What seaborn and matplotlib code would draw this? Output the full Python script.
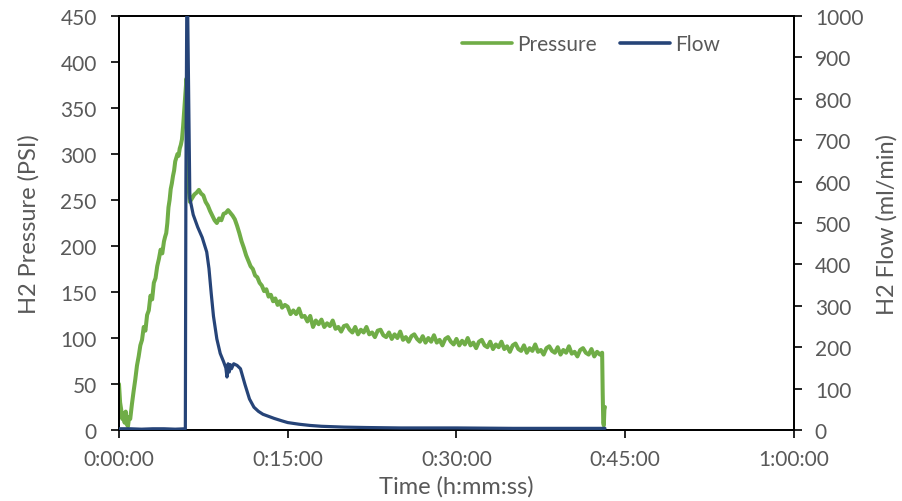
import matplotlib
matplotlib.use("Agg")
import matplotlib.pyplot as plt
import seaborn as sns
import pandas as pd
from matplotlib.lines import Line2D

# ---- data (time in minutes) ----
p_time = [0.0, 0.1, 0.2, 0.3, 0.4, 0.5, 0.6, 0.7, 0.8, 0.9, 1.0, 1.15, 1.3, 1.45, 1.6, 1.75, 1.9, 2.05, 2.2, 2.35,
          2.5, 2.65, 2.8, 2.95, 3.1, 3.25, 3.4, 3.55, 3.7, 3.85, 4.0, 4.1, 4.2, 4.3, 4.4, 4.5, 4.6, 4.7, 4.8, 4.9,
          5.0, 5.1, 5.2, 5.3, 5.4, 5.5, 5.6, 5.7, 5.8, 5.9, 6.0, 6.1, 6.2, 6.3,
          6.5, 6.7, 6.9, 7.1, 7.3, 7.5, 7.7, 7.9, 8.1, 8.3, 8.5, 8.7, 8.9, 9.1, 9.3, 9.5, 9.7, 9.9,
          10.1, 10.3, 10.5, 10.7, 10.9, 11.1, 11.3, 11.5, 11.7, 11.9, 12.1, 12.3, 12.5, 12.7, 12.9,
          13.1, 13.3, 13.5, 13.7, 13.9, 14.1, 14.3, 14.5, 14.75,
          15.0, 15.25, 15.5, 15.75, 16.0, 16.25, 16.5, 16.75, 17.0, 17.25, 17.5, 17.75, 18.0, 18.25, 18.5, 18.75,
          19.0, 19.25, 19.5, 19.75, 20.0, 20.25, 20.5, 20.75, 21.0, 21.25, 21.5, 21.75, 22.0, 22.25, 22.5, 22.75,
          23.0, 23.25, 23.5, 23.75, 24.0, 24.25, 24.5, 24.75, 25.0, 25.25, 25.5, 25.75, 26.0, 26.25, 26.5, 26.75,
          27.0, 27.25, 27.5, 27.75, 28.0, 28.25, 28.5, 28.75, 29.0, 29.25, 29.5, 29.75, 30.0, 30.25, 30.5, 30.75,
          31.0, 31.25, 31.5, 31.75, 32.0, 32.25, 32.5, 32.75, 33.0, 33.25, 33.5, 33.75, 34.0, 34.25, 34.5, 34.75,
          35.0, 35.25, 35.5, 35.75, 36.0, 36.25, 36.5, 36.75, 37.0, 37.25, 37.5, 37.75, 38.0, 38.25, 38.5, 38.75,
          39.0, 39.25, 39.5, 39.75, 40.0, 40.25, 40.5, 40.75, 41.0, 41.25, 41.5, 41.75, 42.0, 42.25, 42.5, 42.75,
          42.95, 43.0, 43.05, 43.1, 43.15, 43.2]
pressure = [50, 30, 22, 12, 18, 8, 20, 6, 4, 14, 12, 28, 42, 55, 70, 80, 92, 98, 112, 108,
            125, 130, 146, 142, 160, 165, 178, 186, 196, 192, 205, 210, 214, 225, 242, 250, 262, 268, 276, 282,
            292, 296, 300, 298, 306, 310, 316, 330, 348, 365, 382, 330, 262, 248,
            252, 256, 258, 261, 257, 255, 248, 244, 238, 233, 228, 225, 230, 228, 235, 236, 239, 236,
            233, 229, 222, 214, 205, 198, 190, 184, 178, 175, 168, 166, 160, 157, 151,
            153, 145, 147, 140, 143, 136, 140, 133, 136,
            134, 126, 130, 126, 132, 123, 124, 118, 124, 112, 119, 115, 120, 112, 116, 113,
            119, 110, 112, 107, 113, 114, 109, 106, 112, 104, 109, 106, 112, 104, 106, 101,
            108, 109, 103, 101, 106, 99, 104, 100, 107, 98, 101, 96, 102, 104, 99, 96,
            102, 95, 100, 96, 103, 95, 98, 92, 99, 101, 96, 93, 99, 92, 97, 93,
            100, 92, 95, 89, 96, 98, 92, 90, 96, 88, 93, 90, 96, 88, 91, 85,
            92, 94, 88, 86, 92, 84, 89, 86, 93, 85, 87, 82, 89, 91, 86, 84,
            90, 82, 87, 84, 91, 83, 85, 80, 87, 89, 84, 82, 88, 80, 85, 82,
            84, 40, 8, 5, 22, 25]

f_time = [0.0, 1.0, 2.0, 3.0, 4.0, 5.0, 5.9, 5.95, 6.05, 6.3, 6.6, 7.0, 7.4, 7.8, 8.0, 8.2, 8.4, 8.7,
          9.0, 9.3, 9.5, 9.6, 9.7, 9.8, 9.9, 10.0, 10.2, 10.5, 10.8, 11.2, 11.6, 12.0, 12.4, 12.8,
          13.3, 13.8, 14.5, 15.0, 16.0, 17.0, 18.0, 19.0, 20.0, 22.0, 25.0, 30.0, 35.0, 40.0, 43.2]
flow = [3, 3, 2, 3, 3, 2, 3, 600, 1150, 560, 520, 490, 465, 430, 390, 330, 275, 220,
        185, 165, 150, 128, 160, 140, 158, 148, 160, 156, 148, 110, 75, 55, 45, 38,
        33, 28, 22, 18, 14, 11, 9, 8, 7, 6, 5, 5, 4, 4, 4]

x_ticks = [0, 15, 30, 45, 60]
x_tick_labels = ["0:00:00", "0:15:00", "0:30:00", "0:45:00", "1:00:00"]

df_p = pd.DataFrame({"t": p_time, "v": pressure})
df_f = pd.DataFrame({"t": f_time, "v": flow})

sns.set_style("ticks")
plt.rcParams["font.family"] = ["Lato", "DejaVu Sans"]

GREEN = "#70AD47"
BLUE = "#264478"
GREY = "#595959"

fig = plt.figure(figsize=(9.02, 5.02), dpi=100)
ax = fig.add_axes([0.1319, 0.1414, 0.7483, 0.8247])
ax2 = ax.twinx()

sns.lineplot(data=df_p, x="t", y="v", ax=ax, color=GREEN, linewidth=2.9, zorder=2)
sns.lineplot(data=df_f, x="t", y="v", ax=ax2, color=BLUE, linewidth=2.3, zorder=3)

ax.set_xlim(0, 60)
ax.set_ylim(0, 450)
ax2.set_ylim(0, 1000)
ax.set_xticks(x_ticks)
ax.set_xticklabels(x_tick_labels)
ax.set_yticks(range(0, 451, 50))
ax2.set_yticks(range(0, 1001, 100))

for a in (ax, ax2):
    for s in a.spines.values():
        s.set_color("black")
        s.set_linewidth(1.3)
    a.tick_params(colors="black", labelcolor=GREY, labelsize=15, length=6, width=1.2, direction="out")
ax.tick_params(axis="x", pad=8)
ax.tick_params(axis="y", pad=10)
ax2.tick_params(axis="y", pad=9)

ax.set_xlabel("Time (h:mm:ss)", fontsize=17, color=GREY)
ax.set_ylabel("H2 Pressure (PSI)", fontsize=17, color=GREY)
ax2.set_ylabel("H2 Flow (ml/min)", fontsize=17, color=GREY, rotation=90)
ax.xaxis.set_label_coords(0.5, -0.108)
ax.yaxis.set_label_coords(-0.118, 0.5)
ax2.yaxis.set_label_coords(1.121, 0.5)

handles = [Line2D([0], [0], color=GREEN, lw=2.6), Line2D([0], [0], color=BLUE, lw=2.6)]
ax.legend(handles, ["Pressure", "Flow"], loc="center", bbox_to_anchor=(0.699, 0.932), ncol=2,
          frameon=False, fontsize=15, handlelength=2.4, handletextpad=0.25, columnspacing=1.1,
          labelcolor=GREY)

fig.savefig("out.png", dpi=100)
